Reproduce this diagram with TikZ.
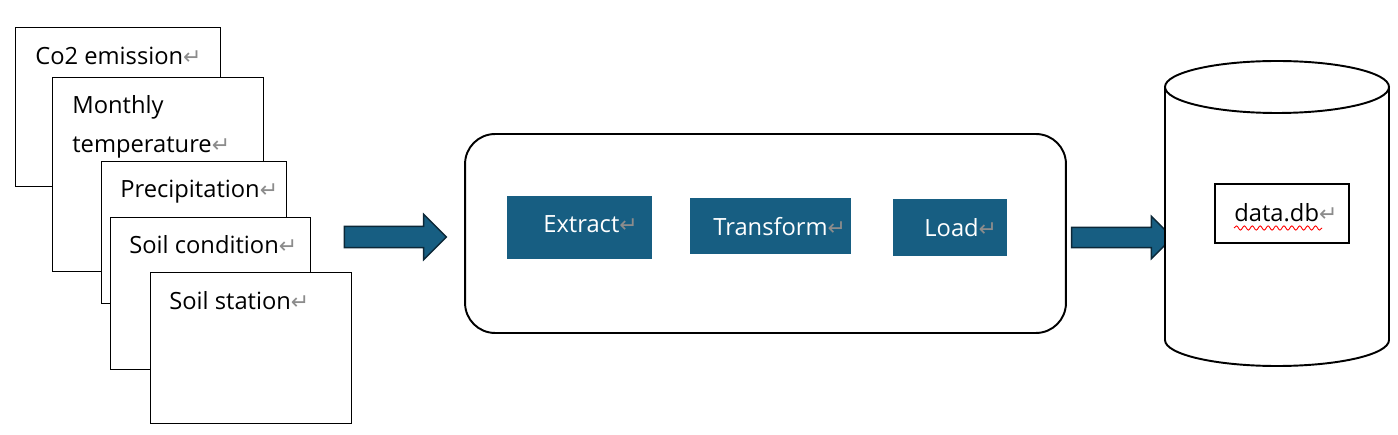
\documentclass[tikz,border=0pt]{standalone}
\usepackage{fontspec}
\setmainfont{Open Sans}
\newfontfamily\symfont{DejaVu Sans}
\usepackage{xcolor}
\usetikzlibrary{shapes.arrows,decorations.pathmorphing}
\definecolor{etlBlue}{RGB}{23,94,130}
\definecolor{etlBlueDark}{RGB}{12,40,56}
\definecolor{retGray}{RGB}{140,140,140}
\newcommand{\retmark}{{\symfont\fontsize{12.5}{14}\selectfont\color{retGray}↵}}

\begin{document}
\begin{tikzpicture}[x=0.02cm, y=0.02cm,
  every node/.style={font=\fontsize{13.5}{16}\selectfont},
  srcbox/.style={draw, fill=white, line width=0.85pt, anchor=north west, inner sep=0pt},
  lbl/.style={anchor=base west, inner sep=0pt},
  etlbox/.style={fill=etlBlue, inner sep=0pt},
  blockarrow/.style={single arrow, draw=etlBlueDark, fill=etlBlue, line width=0.8pt,
    inner sep=0pt, single arrow head indent=0pt}]
\useasboundingbox (0,0) rectangle (1398,-435);

% source files, stacked
\node[srcbox, minimum width=4.1cm, minimum height=3.18cm] (co2box) at (15,-27) {};
\node[lbl] (co2txt) at (35,-65) {Co2 emission\retmark};
\node[srcbox, minimum width=4.22cm, minimum height=3.88cm] (tempbox) at (52,-77) {};
\node[lbl] (temptxta) at (72,-114) {Monthly};
\node[lbl] (temptxtb) at (72,-153) {temperature\retmark};
\node[srcbox, minimum width=3.7cm, minimum height=2.84cm] (precbox) at (101,-161) {};
\node[lbl] (prectxt) at (120,-198) {Precipitation\retmark};
\node[srcbox, minimum width=4.0cm, minimum height=3.04cm] (soilbox) at (110,-217) {};
\node[lbl] (soiltxt) at (129,-254) {Soil condition\retmark};
\node[srcbox, minimum width=4.02cm, minimum height=3.02cm] (stationbox) at (150,-272) {};
\node[lbl] (stationtxt) at (169,-309) {Soil station\retmark};

\node[blockarrow, minimum height=2.04cm, text height=0.2cm, text depth=0.2cm,
  single arrow head extend=0.24cm] (inarrow) at (390,-237) {};

% ETL stage
\node[draw, line width=1.1pt, rounded corners=0.6cm, inner sep=0pt,
  minimum width=12.02cm, minimum height=3.98cm] (etl) at (765.5,-233.5) {};
\node[etlbox, minimum width=2.9cm, minimum height=1.26cm] (extract) at (579.5,-227.5) {};
\node[lbl, text=white] (extracttxt) at (543,-233) {Extract\retmark};
\node[etlbox, minimum width=3.22cm, minimum height=1.12cm] (transform) at (770.5,-226) {};
\node[lbl, text=white] (transformtxt) at (713,-236) {Transform\retmark};
\node[etlbox, minimum width=2.28cm, minimum height=1.14cm] (load) at (950,-227.5) {};
\node[lbl, text=white] (loadtxt) at (924,-237) {Load\retmark};

\node[blockarrow, minimum height=2.02cm, text height=0.19cm, text depth=0.19cm,
  single arrow head extend=0.22cm] (outarrow) at (1117,-237.5) {};

% database
\draw[line width=1.1pt, fill=white] (1165,-87) -- (1165,-340)
  arc[start angle=180, end angle=360, x radius=112, y radius=26] -- (1389,-87);
\draw[line width=1.1pt] (1277,-87) ellipse[x radius=112, y radius=26];
\node[draw, line width=0.8pt, inner sep=0pt, minimum width=2.68cm, minimum height=1.18cm] (datadb) at (1282,-213.5) {};
\node[lbl] (datadbtxt) at (1234,-222) {data.db\retmark};
\draw[red, line width=0.5pt, decorate, decoration={snake, amplitude=1.2, segment length=4.5}]
  (1234,-228) -- (1322,-228);
\end{tikzpicture}
\end{document}
